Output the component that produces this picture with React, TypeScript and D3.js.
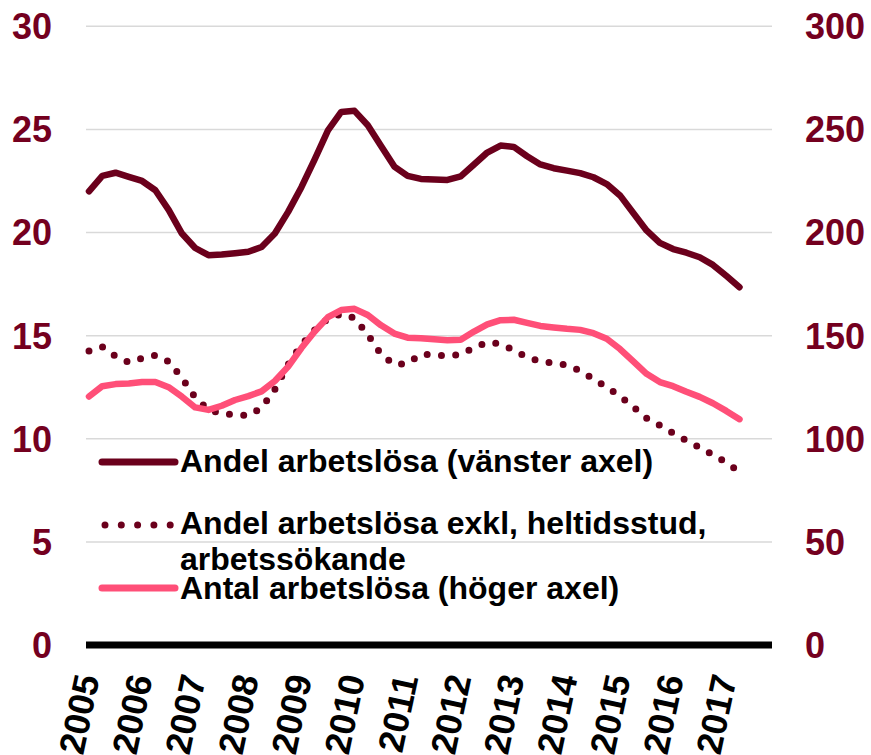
import React from 'react';
import * as d3 from 'd3';

// quarterly values, 2005 Q1 .. 2017 Q2
const years = [2005, 2006, 2007, 2008, 2009, 2010, 2011, 2012, 2013, 2014, 2015, 2016, 2017];
const leftTicks = [0, 5, 10, 15, 20, 25, 30];
const rightTicks = [0, 50, 100, 150, 200, 250, 300];

const andel = [
  22.0, 22.75, 22.9, 22.7, 22.5, 22.05, 21.1, 19.95, 19.25, 18.9,
  18.93, 19.0, 19.07, 19.3, 19.95, 21.0, 22.2, 23.55, 24.95, 25.85,
  25.9, 25.2, 24.2, 23.2, 22.75, 22.6, 22.57, 22.55, 22.72, 23.3,
  23.88, 24.22, 24.15, 23.7, 23.3, 23.12, 23.0, 22.88, 22.68, 22.35,
  21.8, 20.95, 20.1, 19.5, 19.2, 19.02, 18.8, 18.43, 17.9, 17.35,
];
const andelExkl = [
  14.25, 14.46, 14.0, 13.7, 13.9, 14.05, 13.75, 12.95, 12.0, 11.4,
  11.22, 11.16, 11.13, 11.5, 12.4, 13.6, 14.55, 15.27, 15.83, 16.05,
  15.85, 15.05, 14.1, 13.6, 13.65, 14.1, 14.07, 14.02, 14.08, 14.42,
  14.68, 14.6, 14.3, 13.95, 13.75, 13.67, 13.57, 13.3, 12.9, 12.5,
  12.07, 11.55, 11.0, 10.65, 10.27, 9.92, 9.58, 9.22, 8.85, 8.4,
];
const antal = [
  120.5, 125.5, 126.5, 126.8, 127.5, 127.5, 125, 120.4, 115.2, 114,
  116, 118.8, 120.7, 123, 128, 135, 144, 152, 159, 162.4,
  163, 160, 155, 151, 149, 148.7, 148.2, 147.8, 148, 152,
  155.5, 157.5, 157.7, 156.2, 154.7, 154, 153.3, 152.8, 151.2, 148.5,
  143.5, 137.5, 131.5, 127.5, 125.5, 122.8, 120.3, 117.2, 113.5, 109.5,
];

const DARK = '#6b001c';
const PINK = '#ff4f78';
const TICK = '#74001f';
const FONT = '"Liberation Sans", Arial, sans-serif';

export default function App() {
  const width = 871;
  const height = 755;

  const x = d3.scaleLinear().domain([0, andel.length - 1]).range([89, 739.5]);
  const yL = d3.scaleLinear().domain([0, 30]).range([645, 26.3]);
  const yR = d3.scaleLinear().domain([0, 300]).range([645, 26.3]);

  const lineL = d3.line<number>().x((_, i) => x(i)).y((d) => yL(d));
  const lineR = d3.line<number>().x((_, i) => x(i)).y((d) => yR(d));

  return (
    <svg width={width} height={height} style={{ position: 'absolute', left: 0, top: 0 }}
      fontFamily={FONT} fontWeight="bold">
      {/* gridlines */}
      {leftTicks.filter((t) => t > 0).map((t) => (
        <line key={t} x1={86} x2={772} y1={yL(t)} y2={yL(t)} stroke="#d9d9d9" strokeWidth={1.5} />
      ))}

      {/* left axis labels */}
      {leftTicks.map((t) => (
        <text key={t} x={52} y={yL(t)} dy="0.36em" textAnchor="end" fontSize={36} fill={TICK}>{t}</text>
      ))}
      {/* right axis labels */}
      {rightTicks.map((t) => (
        <text key={t} x={805} y={yR(t)} dy="0.36em" textAnchor="start" fontSize={36} fill={TICK}>{t}</text>
      ))}

      {/* baseline */}
      <line x1={86} x2={772} y1={645} y2={645} stroke="#000" strokeWidth={7} />

      {/* x labels */}
      {years.map((yr, k) => (
        <text key={yr} transform={`translate(${x(k * 4) - 2},675) rotate(-78)`} textAnchor="end" dy="0.36em"
          fontSize={36} fill="#000">{yr}</text>
      ))}

      {/* series */}
      <path d={lineL(andel) || ''} fill="none" stroke={DARK} strokeWidth={6.5} strokeLinejoin="round" strokeLinecap="round" />
      <path d={lineL(andelExkl) || ''} fill="none" stroke={DARK} strokeWidth={7} strokeLinecap="round" strokeDasharray="0 14.3" />
      <path d={lineR(antal) || ''} fill="none" stroke={PINK} strokeWidth={6.5} strokeLinejoin="round" strokeLinecap="round" />

      {/* legend */}
      <g fontSize={32} fill="#000">
        <line x1={102} x2={175} y1={462} y2={462} stroke={DARK} strokeWidth={7} strokeLinecap="round" />
        <text x={180} y={472}>Andel arbetslösa (vänster axel)</text>
        <line x1={105} x2={171} y1={525} y2={525} stroke={DARK} strokeWidth={7} strokeLinecap="round" strokeDasharray="0 16.3" />
        <text x={180} y={534}>Andel arbetslösa exkl, heltidsstud,</text>
        <text x={180} y={570}>arbetssökande</text>
        <line x1={102} x2={175} y1={588} y2={588} stroke={PINK} strokeWidth={7} strokeLinecap="round" />
        <text x={180} y={599}>Antal arbetslösa (höger axel)</text>
      </g>
    </svg>
  );
}
